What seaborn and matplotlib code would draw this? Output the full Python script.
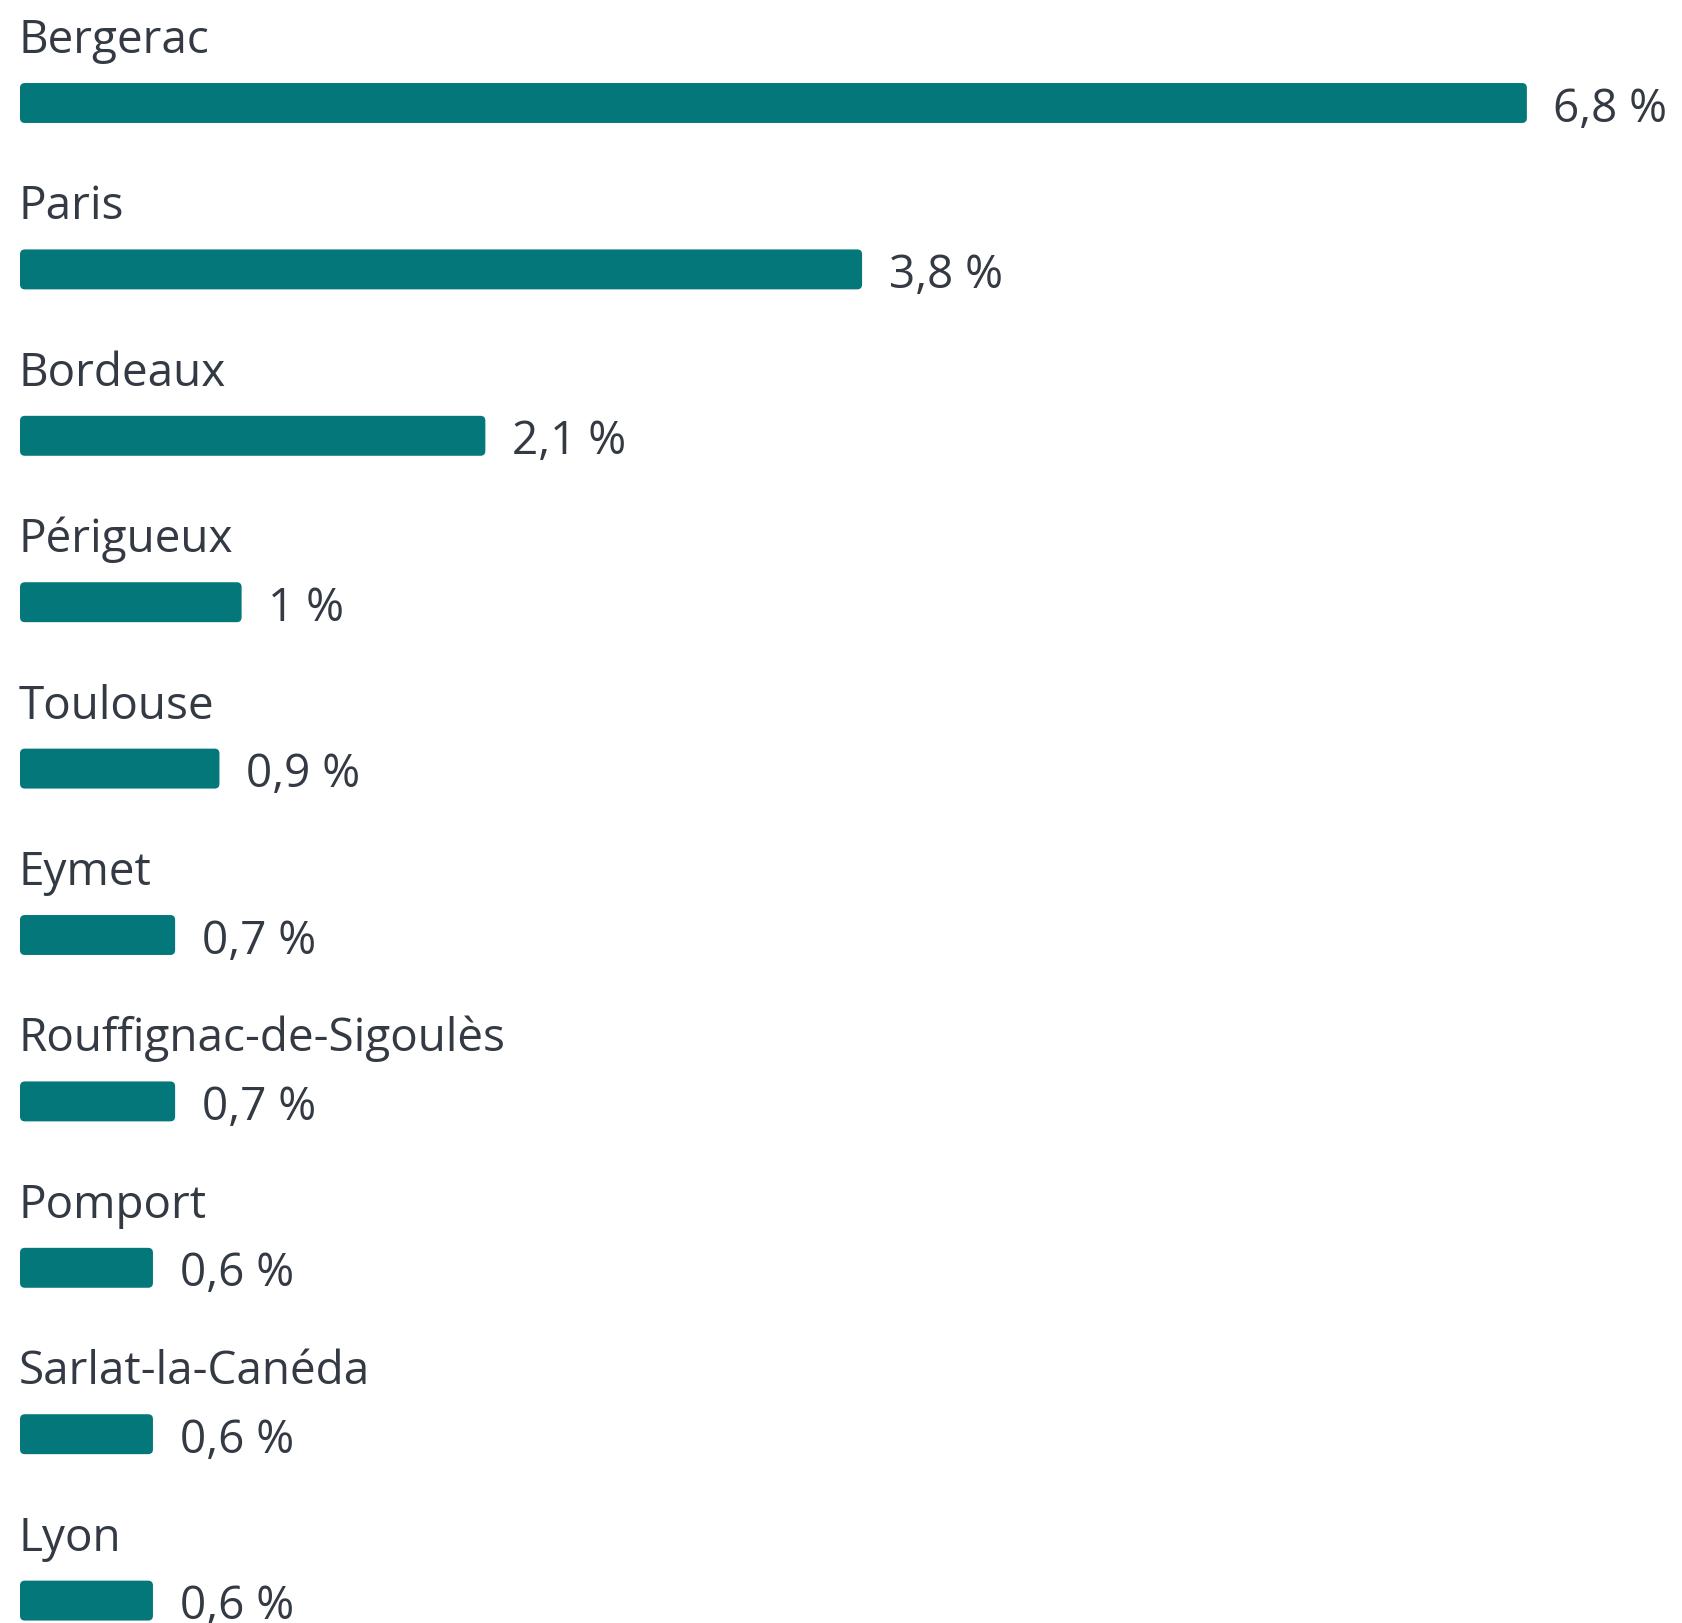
import numpy as np
import pandas as pd
import seaborn as sns
from matplotlib import pyplot as plt
from matplotlib.patches import FancyBboxPatch

villes = ['Bergerac', 'Paris', 'Bordeaux', 'Périgueux', 'Toulouse', 'Eymet',
          'Rouffignac-de-Sigoulès', 'Pomport', 'Sarlat-la-Canéda', 'Lyon']
parts = [6.8, 3.8, 2.1, 1.0, 0.9, 0.7, 0.7, 0.6, 0.6, 0.6]
etiquettes = ['6,8 %', '3,8 %', '2,1 %', '1 %', '0,9 %', '0,7 %', '0,7 %',
              '0,6 %', '0,6 %', '0,6 %']

df = pd.DataFrame({'ville': villes, 'part': parts})

sns.set_style('white')
plt.rcParams['font.family'] = ['Open Sans', 'DejaVu Sans']

teal = '#03777a'
txt = '#333a44'

fig = plt.figure(figsize=(16.83, 16.23), dpi=100)
ax = fig.add_axes([0, 0, 1, 1])
sns.barplot(data=df, x='part', y='ville', orient='h', color=teal,
            width=0.24, saturation=1, ax=ax)

# rounded corners on the bars
for p in list(ax.patches):
    x0, y0 = p.get_x(), p.get_y()
    w, h = p.get_width(), p.get_height()
    p.remove()
    r = 0.022
    ax.add_patch(FancyBboxPatch((x0 + r, y0 + r * 1.33), w - 2 * r, h - 2 * r * 1.33,
                                boxstyle=f'round,pad={r}', mutation_aspect=1.33,
                                fc=teal, ec='none'))

for i, (v, lab, val) in enumerate(zip(villes, etiquettes, parts)):
    ax.text(-0.005, i - 0.30, v, fontsize=33, color=txt, ha='left', va='baseline')
    ax.text(val + 0.12, i + 0.04, lab, fontsize=33, color=txt, ha='left', va='center')

ax.set_xlim(-20 / 221.6, 1663 / 221.6)
ax.set_ylim(1520 / 166.4, -103 / 166.4)
ax.axis('off')

fig.savefig('out.png', dpi=100)
